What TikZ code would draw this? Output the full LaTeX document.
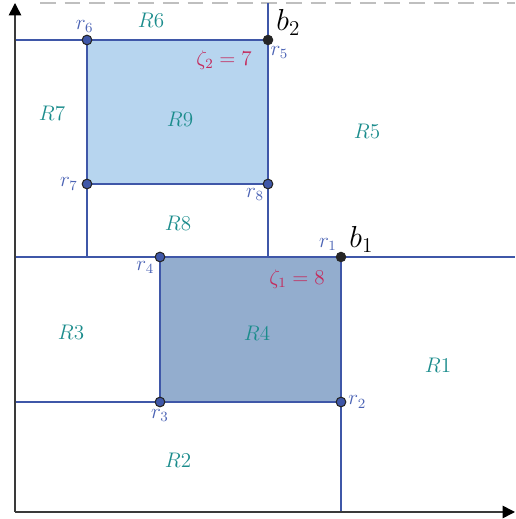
\documentclass[tikz,border=0pt]{standalone}
\usepackage{xcolor}
\definecolor{Edge}{HTML}{3F57A8}
\definecolor{Teal}{HTML}{1B8C8C}
\definecolor{Crim}{HTML}{C42A5C}
\definecolor{Lbl}{HTML}{4A62B4}
\definecolor{FillA}{HTML}{B7D5EF}
\definecolor{FillB}{HTML}{93ADCE}
\definecolor{Axis}{HTML}{3A3A3A}
\usetikzlibrary{arrows.meta,positioning}

\begin{document}
\begin{tikzpicture}[x=0.02cm,y=0.02cm,
  edge/.style={draw=Edge,line width=0.9pt},
  dot/.style={circle,draw=black!85,fill=Edge,inner sep=0pt,minimum size=5.5pt,line width=0.6pt},
  bdot/.style={circle,fill=black!85,inner sep=0pt,minimum size=6pt},
  reg/.style={text=Teal,font=\large},
  rlab/.style={text=Lbl,inner sep=0pt,font=\large},
  zeta/.style={text=Crim,font=\large}]
\useasboundingbox (-15,-7) rectangle (500,512);
% corners of the two boxes
\coordinate (r1) at (326,255);
\coordinate (r2) at (326,110);
\coordinate (r3) at (145,110);
\coordinate (r4) at (145,255);
\coordinate (r5) at (253,472);
\coordinate (r6) at (72,472);
\coordinate (r7) at (72,328);
\coordinate (r8) at (253,328);
% free ends of the cuts
\coordinate (o) at (0,0);
\coordinate (xe) at (500,0);
\coordinate (ye) at (0,509);
\coordinate (y6) at (0,472);
\coordinate (y4) at (0,255);
\coordinate (x4) at (500,255);
\coordinate (y3) at (0,110);
\coordinate (x2) at (326,0);
\coordinate (t5) at (253,509);
\coordinate (m8) at (253,255);
\coordinate (m7) at (72,255);
\coordinate (d0) at (25,509);
\coordinate (d1) at (500,509);

\draw[black!25,line width=0.8pt,dash pattern=on 9pt off 5pt] (d0) -- (d1);
\fill[FillA] (r6) -- (r5) -- (r8) -- (r7) -- cycle;
\fill[FillB] (r4) -- (r1) -- (r2) -- (r3) -- cycle;
\draw[edge] (y6) -- (r6) -- (r5) (t5) -- (r5) -- (r8) -- (m8)
  (r6) -- (r7) -- (m7) (r7) -- (r8);
\draw[edge] (y4) -- (x4) (r4) -- (r3) (y3) -- (r3) -- (r2) (r1) -- (r2) -- (x2);
\draw[Axis,line width=0.9pt,-{Triangle[length=7pt,width=7pt,color=black]}] (o) -- (xe);
\draw[Axis,line width=0.9pt,-{Triangle[length=7pt,width=7pt,color=black]}] (o) -- (ye);

\foreach \p in {r2,r3,r4,r6,r7,r8}{\node[dot] (n\p) at (\p) {};}
\foreach \p in {r1,r5}{\node[bdot] (n\p) at (\p) {};}

% point labels
\node[rlab,above left=2pt and -6pt of nr6] {$r_6$};
\node[rlab,below right=1pt and -1pt of nr5] {$r_5$};
\node[rlab,left=2pt of nr7] {$r_7$};
\node[rlab,below left=0pt and 0pt of nr8] {$r_8$};
\node[rlab,below left=0pt and 1pt of nr4] {$r_4$};
\node[rlab,above left=1pt and 0pt of nr1] {$r_1$};
\node[rlab,below=1pt of nr3] {$r_3$};
\node[rlab,right=1pt of nr2] {$r_2$};
\node[font=\LARGE,above right=-3pt and -1pt of nr5] {$b_2$};
\node[font=\LARGE,above right=-3pt and -1pt of nr1] {$b_1$};

% regions
\node[reg] (R1) at (423,147) {$R1$};
\node[reg] (R2) at (163,52) {$R2$};
\node[reg] (R3) at (56,180) {$R3$};
\node[reg] (R4) at (242,179) {$R4$};
\node[reg] (R5) at (352,381) {$R5$};
\node[reg] (R6) at (136,492) {$R6$};
\node[reg] (R7) at (37,399) {$R7$};
\node[reg] (R8) at (163,289) {$R8$};
\node[reg] (R9) at (165,393) {$R9$};
\node[zeta] (z2) at (209,452) {$\zeta_2=7$};
\node[zeta] (z1) at (282,233) {$\zeta_1=8$};
\end{tikzpicture}
\end{document}
